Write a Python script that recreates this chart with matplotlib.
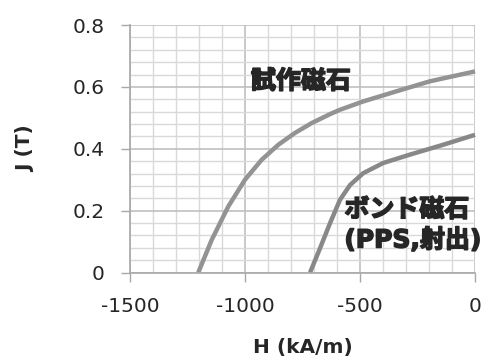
import matplotlib
matplotlib.use("Agg")
import matplotlib.pyplot as plt
import matplotlib.patheffects as pe
from matplotlib.ticker import MultipleLocator

plt.rcParams['font.family'] = ['DejaVu Sans', 'Noto Sans CJK JP']

# Data
H_trial = [-1203, -1145, -1073, -1000, -928, -855, -783, -710, -630, -587, -486, -340, -196, 0]
J_trial = [0.0, 0.105, 0.213, 0.300, 0.364, 0.413, 0.451, 0.483, 0.512, 0.526, 0.553, 0.586, 0.618, 0.650]
H_bond = [-717, -674, -630, -587, -543, -486, -399, -283, -138, 0]
J_bond = [0.0, 0.078, 0.160, 0.235, 0.283, 0.321, 0.354, 0.381, 0.413, 0.445]

label_trial = "試作磁石"
label_bond = "ボンド磁石\n(PPS,射出)"
xticks = [-1500, -1000, -500, 0]
yticks = [0, 0.2, 0.4, 0.6, 0.8]
ytick_labels = ["0", "0.2", "0.4", "0.6", "0.8"]

fig = plt.figure(figsize=(4.86, 3.62), dpi=100)
ax = fig.add_axes([130/486, 1-272.5/362, 345/486, 247.5/362])

ax.set_xlim(-1500, 0)
ax.set_ylim(0, 0.8)
ax.xaxis.set_minor_locator(MultipleLocator(100))
ax.yaxis.set_minor_locator(MultipleLocator(0.04))
ax.set_xticks(xticks)
ax.set_xticklabels([str(v) for v in xticks])
ax.set_yticks(yticks)
ax.set_yticklabels(ytick_labels)
ax.grid(which='minor', color='#d9d9d9', linewidth=1.0)
ax.grid(which='major', color='#c0c0c0', linewidth=1.2)
ax.set_axisbelow(True)
ax.tick_params(which='major', length=6.5, width=1, color='#a8a8a8',
               labelsize=14.5, labelcolor='#262626')
ax.tick_params(axis='y', pad=12)
ax.tick_params(axis='x', pad=11)
ax.tick_params(which='minor', length=0)
for s in ['top', 'right']:
    ax.spines[s].set_visible(False)
for s in ['left', 'bottom']:
    ax.spines[s].set_color('#a8a8a8')
    ax.spines[s].set_linewidth(1.2)

ax.plot(H_trial, J_trial, color='#939393', linewidth=3.2, solid_capstyle='butt',
        solid_joinstyle='round', clip_on=False)
ax.plot(H_bond, J_bond, color='#888888', linewidth=3.2, solid_capstyle='butt',
        solid_joinstyle='round', clip_on=False)

bold_fx = [pe.withStroke(linewidth=1.1, foreground='#262626')]
ax.text(-757, 0.617, label_trial, fontsize=18, fontweight='bold',
        color='#262626', ha='center', va='center', path_effects=bold_fx)
ax.text(-568, 0.153, label_bond, fontsize=18, fontweight='bold',
        color='#262626', ha='left', va='center', linespacing=1.25,
        path_effects=bold_fx)

ax.set_xlabel("H (kA/m)", fontsize=14.5, fontweight='bold', color='#262626', labelpad=16)
ax.set_ylabel("J (T)", fontsize=14.5, fontweight='bold', color='#262626', labelpad=27)

fig.savefig("out.png", dpi=100)
